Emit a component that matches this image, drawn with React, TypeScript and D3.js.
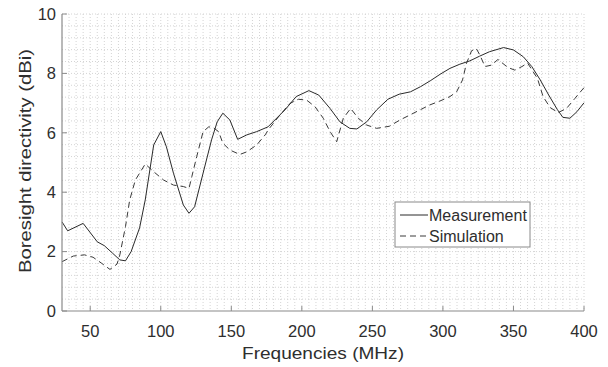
import React from "react";
import * as d3 from "d3";

const measFreq = [30, 34, 45, 55, 60, 66, 71, 75, 79, 85, 89, 95, 100, 104, 109, 116, 120, 124, 130, 136, 140, 144, 149, 154.5, 161, 168, 176, 188, 196, 205, 212, 220, 227, 234, 239, 246, 253, 261, 269, 277, 284, 291, 298, 305, 312, 319, 326, 333, 343, 350, 357, 363, 369, 375, 381, 385, 390, 395, 400];
const measVal = [3.0, 2.7, 2.95, 2.33, 2.2, 1.94, 1.72, 1.69, 2.0, 2.8, 3.74, 5.59, 6.04, 5.53, 4.64, 3.57, 3.29, 3.51, 4.64, 5.76, 6.37, 6.66, 6.43, 5.78, 5.93, 6.04, 6.2, 6.77, 7.22, 7.42, 7.27, 6.82, 6.37, 6.15, 6.13, 6.37, 6.77, 7.13, 7.3, 7.38, 7.55, 7.75, 7.97, 8.17, 8.31, 8.42, 8.58, 8.73, 8.87, 8.79, 8.56, 8.23, 7.78, 7.27, 6.79, 6.52, 6.49, 6.71, 7.01];

const simFreq = [30, 38, 46, 52, 58, 64, 69, 71, 75, 78, 82, 89, 95, 102, 109, 116, 120, 122, 125.5, 130, 134, 137, 141, 144, 149, 156, 161, 168, 174, 177, 184.5, 191.6, 197.5, 203.4, 209.3, 215.2, 220, 224.7, 229.4, 234.6, 240, 246, 253, 262, 269.5, 276.6, 283.7, 290.8, 297.9, 305, 309.7, 313.9, 316.7, 320.3, 323.6, 326.2, 329.8, 334.5, 339, 346, 351, 356, 360, 367, 371, 376, 381.7, 387.6, 393.6, 400];
const simVal = [1.66, 1.85, 1.89, 1.81, 1.61, 1.4, 1.58, 1.89, 2.84, 3.74, 4.41, 4.95, 4.69, 4.41, 4.24, 4.19, 4.13, 4.52, 5.2, 6.04, 6.2, 6.18, 6.04, 5.65, 5.42, 5.27, 5.36, 5.59, 5.93, 6.15, 6.6, 6.99, 7.13, 7.1, 6.88, 6.49, 6.04, 5.7, 6.49, 6.82, 6.49, 6.26, 6.15, 6.22, 6.43, 6.6, 6.77, 6.94, 7.07, 7.22, 7.38, 7.78, 8.34, 8.76, 8.84, 8.62, 8.23, 8.28, 8.47, 8.2, 8.11, 8.23, 8.35, 7.83, 7.22, 6.85, 6.68, 6.82, 7.16, 7.52];

const xTicks = [50, 100, 150, 200, 250, 300, 350, 400];
const yTicks = [0, 2, 4, 6, 8, 10];
const seriesNames = ["Measurement", "Simulation"];

const W = 608, H = 367;
const L = 62, R = 584, T = 14, B = 311;
const FONT = "'Liberation Sans', Arial, sans-serif";

export default function App() {
  const x = d3.scaleLinear().domain([30, 400]).range([L, R]);
  const y = d3.scaleLinear().domain([0, 10]).range([B, T]);
  const line = d3.line<[number, number]>().x(d => x(d[0])).y(d => y(d[1]));
  const meas = measFreq.map((f, i) => [f, measVal[i]] as [number, number]);
  const sim = simFreq.map((f, i) => [f, simVal[i]] as [number, number]);
  const xMinor = d3.range(35, 401, 5);
  const yMinor = d3.range(1, 26).map(i => i * 0.4);
  const textColor = "#2e2e2e";
  return (
    <svg width={W} height={H} style={{ position: "absolute", left: 0, top: 0, background: "#fff" }}>
      <g>
        {xMinor.map(v => (
          <line key={"gx" + v} x1={x(v)} x2={x(v)} y1={T} y2={B} stroke="#d4d4d4" strokeWidth={1} strokeDasharray="1,2" />
        ))}
        {yMinor.map(v => (
          <line key={"gy" + v} x1={L} x2={R} y1={y(v)} y2={y(v)} stroke="#d4d4d4" strokeWidth={1} strokeDasharray="1,2" />
        ))}
      </g>
      <path d={line(sim) || ""} fill="none" stroke="#3a3a3a" strokeWidth={1} strokeDasharray="6,4" />
      <path d={line(meas) || ""} fill="none" stroke="#2a2a2a" strokeWidth={1} />
      <line x1={L} x2={R} y1={B} y2={B} stroke="#8a8a8a" strokeWidth={1.2} />
      <line x1={L} x2={L} y1={T} y2={B} stroke="#8a8a8a" strokeWidth={1.2} />
      {xTicks.map(v => (
        <g key={"xt" + v}>
          <line x1={x(v)} x2={x(v)} y1={B} y2={B - 5} stroke="#8a8a8a" />
          <text x={x(v)} y={B + 25.5} textAnchor="middle" fontFamily={FONT} fontSize={16.5} fill={textColor}>{v}</text>
        </g>
      ))}
      {yTicks.map(v => (
        <g key={"yt" + v}>
          <line x1={L} x2={L + 5} y1={y(v)} y2={y(v)} stroke="#8a8a8a" />
          <text x={L - 6} y={y(v) + 5.8} textAnchor="end" fontFamily={FONT} fontSize={16.5} fill={textColor}>{v}</text>
        </g>
      ))}
      <text x={(L + R) / 2} y={359} textAnchor="middle" fontFamily={FONT} fontSize={17} fill={textColor} textLength={162} lengthAdjust="spacingAndGlyphs">Frequencies (MHz)</text>
      <text transform={`translate(31,161) rotate(-90)`} textAnchor="middle" fontFamily={FONT} fontSize={17} fill={textColor} textLength={224} lengthAdjust="spacingAndGlyphs">Boresight directivity (dBi)</text>
      <g>
        <rect x={395} y={202} width={135} height={45} fill="#fff" stroke="#8a8a8a" strokeWidth={1} />
        <line x1={400} x2={428} y1={215} y2={215} stroke="#2a2a2a" strokeWidth={1} />
        <text x={429} y={220.5} fontFamily={FONT} fontSize={16} fill={textColor}>{seriesNames[0]}</text>
        <line x1={400} x2={428} y1={236} y2={236} stroke="#3a3a3a" strokeWidth={1} strokeDasharray="6,4" />
        <text x={429} y={241.5} fontFamily={FONT} fontSize={16} fill={textColor}>{seriesNames[1]}</text>
      </g>
    </svg>
  );
}
